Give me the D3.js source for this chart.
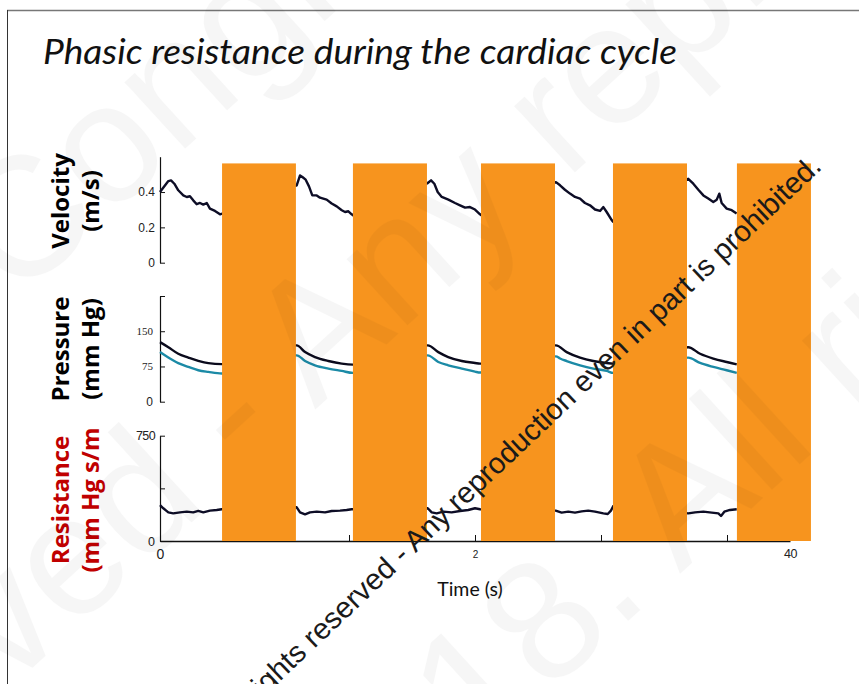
<!DOCTYPE html>
<html>
<head>
<meta charset="utf-8">
<script src="https://cdn.jsdelivr.net/npm/d3@7"></script>
<style>
  html, body { margin: 0; padding: 0; background: #fff; }
  svg { display: block; }
</style>
</head>
<body>
<svg id="chart" width="859" height="684"></svg>
<script>
// ---- recorded traces: [time (s), value] ----
const velocityTrace = [
  [0,0.40],[0.053,0.462],[0.070,0.466],[0.091,0.447],[0.116,0.41],[0.148,0.381],[0.170,0.372],[0.190,0.376],[0.211,0.353],[0.233,0.331],[0.254,0.338],[0.275,0.329],[0.297,0.338],[0.317,0.306],[0.349,0.293],[0.381,0.274],[0.394,0.278],
  [0.868,0.438],[0.889,0.494],[0.904,0.485],[0.925,0.47],[0.946,0.432],[0.967,0.381],[0.995,0.381],[1.016,0.368],[1.058,0.357],[1.090,0.335],[1.122,0.319],[1.154,0.297],[1.175,0.287],[1.196,0.291],[1.217,0.274],[1.225,0.269],
  [1.700,0.451],[1.721,0.466],[1.742,0.447],[1.763,0.40],[1.789,0.372],[1.831,0.357],[1.873,0.338],[1.905,0.325],[1.937,0.312],[1.968,0.315],[2.0,0.301],[2.032,0.274],[2.038,0.27],
  [2.514,0.456],[2.540,0.438],[2.571,0.413],[2.603,0.391],[2.635,0.372],[2.667,0.363],[2.698,0.338],[2.730,0.325],[2.762,0.301],[2.794,0.293],[2.815,0.315],[2.836,0.287],[2.868,0.241],[2.878,0.231],
  [3.354,0.475],[3.386,0.447],[3.418,0.413],[3.450,0.381],[3.481,0.363],[3.513,0.344],[3.535,0.357],[3.551,0.391],[3.566,0.338],[3.598,0.306],[3.630,0.297],[3.661,0.278]
];
const aorticPressure = [
  [0,126.8],[0.053,116],[0.116,102],[0.180,94],[0.243,87],[0.307,82],[0.392,80],
  [0.868,119.8],[0.921,105.6],[0.984,95],[1.069,86.6],[1.154,81],[1.225,79],
  [1.700,119.8],[1.767,105.6],[1.830,95],[1.916,86.6],[2.0,82.4],[2.032,81],
  [2.514,119.8],[2.582,105.6],[2.667,93.8],[2.751,86.6],[2.836,82.4],[2.878,81],
  [3.354,116],[3.429,102],[3.513,91.7],[3.598,84.5],[3.662,79.6]
];
const distalPressure = [
  [0,105.6],[0.053,94],[0.116,82],[0.180,74],[0.243,67],[0.307,63.4],[0.392,60],
  [0.868,98.7],[0.921,86.6],[0.984,77.5],[1.069,70.5],[1.154,65.5],[1.225,61.3],
  [1.700,98.7],[1.767,84.5],[1.830,77.5],[1.916,70.5],[2.0,64],[2.032,62],
  [2.514,96.5],[2.540,92],[2.582,86.6],[2.667,77.5],[2.751,70.5],[2.836,65.5],[2.878,61.3],
  [3.354,93.8],[3.429,82.4],[3.513,74],[3.598,67],[3.662,61.3]
];
const resistanceTrace = [
  [0,256],[0.021,233],[0.053,204],[0.084,197],[0.127,204],[0.170,209],[0.211,204],[0.243,214],[0.275,204],[0.317,216],[0.360,221],[0.392,226],
  [0.868,240],[0.889,204],[0.921,190],[0.952,204],[0.995,209],[1.048,204],[1.090,214],[1.143,216],[1.185,221],[1.217,226],
  [1.700,233],[1.725,204],[1.757,197],[1.799,209],[1.852,204],[1.905,214],[1.957,221],[2.0,233],[2.032,226],
  [2.512,216],[2.550,202],[2.592,209],[2.635,202],[2.677,211],[2.719,216],[2.762,209],[2.815,197],[2.843,192],[2.863,216],[2.878,249],
  [3.354,197],[3.397,204],[3.450,209],[3.503,202],[3.545,197],[3.562,178],[3.583,209],[3.619,221],[3.662,226]
];

// ---- masked time windows (s) ----
const maskStart = [0.394, 1.225, 2.038, 2.876, 3.663];
const maskEnd   = [0.863, 1.695, 2.508, 3.346, 4.133];

// ---- axis ticks ----
const timeTicks = [0,0.4,0.8,1.2,1.6,2.0,2.4,2.8,3.2,3.6,4.0];
const timeTickLabels = {0: "0", 2: "2", 4: "40"};
const velocityTicks = [0, 0.2, 0.4];
const pressureTicks = [0, 75, 150, 225];
const resistanceTicks = [0, 375, 750];

// ---- texts ----
const titleText = "Phasic resistance during the cardiac cycle";
const panelLabels = [
  {line1: "Velocity", line2: "(m/s)", color: "#000"},
  {line1: "Pressure", line2: "(mm Hg)", color: "#000"},
  {line1: "Resistance", line2: "(mm Hg s/m", color: "#c00000"}
];
const noticeText = "All rights reserved - Any reproduction even in part is prohibited.";

const svg = d3.select("#chart");

// slide frame
svg.append("line").attr("x1", 7).attr("x2", 859).attr("y1", 10.5).attr("y2", 10.5)
  .attr("stroke", "#777").attr("stroke-width", 1.6);
svg.append("line").attr("x1", 7.5).attr("x2", 7.5).attr("y1", 10).attr("y2", 684)
  .attr("stroke", "#333").attr("stroke-width", 1);

// title
svg.append("text")
  .attr("x", 43).attr("y", 64)
  .attr("font-family", "Lato, 'Open Sans', sans-serif")
  .attr("font-style", "italic")
  .attr("font-size", 34)
  .attr("fill", "#111")
  .attr("textLength", 634).attr("lengthAdjust", "spacingAndGlyphs")
  .text(titleText);

// scales
const x = d3.scaleLinear().domain([0, 4]).range([160, 790]);
const yVel = d3.scaleLinear().domain([0, 0.6]).range([262.7, 156.7]);
const yPres = d3.scaleLinear().domain([0, 225]).range([401.7, 296]);
const yRes = d3.scaleLinear().domain([0, 750]).range([541, 435.7]);

function styleAxis(g, fontFamily, fontSize) {
  g.select(".domain").attr("stroke", "#111").attr("stroke-width", 1.2);
  g.selectAll(".tick line").attr("stroke", "#111").attr("stroke-width", 1);
  g.selectAll(".tick text").attr("font-family", fontFamily).attr("font-size", fontSize).attr("fill", "#222");
}

// velocity axis
const gVel = svg.append("g").attr("transform", `translate(${x(0)},0)`)
  .call(d3.axisLeft(yVel).tickValues(velocityTicks).tickSizeInner(-5).tickSizeOuter(0).tickPadding(5)
    .tickFormat(d => d === 0 ? "0" : d3.format(".1f")(d)));
styleAxis(gVel, "Arial, 'Liberation Sans', sans-serif", 12);

// pressure axis
const gPres = svg.append("g").attr("transform", `translate(${x(0)},0)`)
  .call(d3.axisLeft(yPres).tickValues(pressureTicks).tickSizeInner(-5).tickSizeOuter(0).tickPadding(7)
    .tickFormat(d => d === 225 ? "" : String(d)));
styleAxis(gPres, "'Liberation Serif', 'DejaVu Serif', serif", 11);
gPres.selectAll(".tick text").filter(d => d === 0)
  .attr("font-family", "Arial, 'Liberation Sans', sans-serif").attr("font-size", 12);

// resistance axis
const gRes = svg.append("g").attr("transform", `translate(${x(0)},0)`)
  .call(d3.axisLeft(yRes).tickValues(resistanceTicks).tickSizeInner(-5).tickSizeOuter(0).tickPadding(5)
    .tickFormat(d => d === 375 ? "" : String(d)));
styleAxis(gRes, "Arial, 'Liberation Sans', sans-serif", 12.5);
gRes.selectAll(".tick text").filter(d => d === 750).attr("letter-spacing", -0.6);

// time axis
const gTime = svg.append("g").attr("transform", `translate(0,${yRes(0)})`)
  .call(d3.axisBottom(x).tickValues(timeTicks).tickSizeInner(-6).tickSizeOuter(0).tickPadding(8)
    .tickFormat(d => timeTickLabels[Math.round(d * 10) / 10] || ""));
styleAxis(gTime, "Arial, 'Liberation Sans', sans-serif", 12);
gTime.select(".domain").attr("stroke-width", 1.6);
gTime.selectAll(".tick text").each(function(d) {
  const s = d3.select(this);
  if (d === 0) s.attr("font-size", 14);
  else if (d === 2) s.attr("font-size", 10).attr("dy", "0.9em");
  else s.attr("font-size", 12.5).attr("letter-spacing", -0.5);
});

// time axis title
svg.append("text")
  .attr("x", 470).attr("y", 596)
  .attr("text-anchor", "middle")
  .attr("font-family", "Lato, 'Open Sans', sans-serif")
  .attr("font-size", 19.5)
  .attr("fill", "#111")
  .text("Time (s)");

// panel labels (rotated)
const labelCenters = [201, 349, 500];
panelLabels.forEach((lab, i) => {
  const g = svg.append("g").attr("font-family", "'Open Sans', 'DejaVu Sans', sans-serif")
    .attr("font-weight", 700).attr("font-size", 24).attr("fill", lab.color)
    .attr("text-anchor", "middle");
  g.append("text").attr("transform", `translate(68.5,${labelCenters[i]}) rotate(-90)`).text(lab.line1);
  g.append("text").attr("transform", `translate(98.5,${labelCenters[i]}) rotate(-90)`).text(lab.line2);
});

// traces
const traceLine = (yScale) => d3.line().x(d => x(d[0])).y(d => yScale(d[1]));
const smoothLine = (yScale) => d3.line().x(d => x(d[0])).y(d => yScale(d[1])).curve(d3.curveMonotoneX);

svg.append("path").datum(velocityTrace)
  .attr("d", traceLine(yVel)).attr("fill", "none")
  .attr("stroke", "#0d0d26").attr("stroke-width", 2.4).attr("stroke-linejoin", "round");
svg.append("path").datum(distalPressure)
  .attr("d", smoothLine(yPres)).attr("fill", "none")
  .attr("stroke", "#1b8aa6").attr("stroke-width", 2.4);
svg.append("path").datum(aorticPressure)
  .attr("d", smoothLine(yPres)).attr("fill", "none")
  .attr("stroke", "#0a0a1c").attr("stroke-width", 2.4);
svg.append("path").datum(resistanceTrace)
  .attr("d", traceLine(yRes)).attr("fill", "none")
  .attr("stroke", "#0d0d26").attr("stroke-width", 2.4).attr("stroke-linejoin", "round");

// masking blocks
svg.append("g").selectAll("rect")
  .data(d3.range(maskStart.length))
  .join("rect")
  .attr("x", i => x(maskStart[i]))
  .attr("width", i => x(maskEnd[i]) - x(maskStart[i]))
  .attr("y", yVel(0.562))
  .attr("height", yRes(0) - yVel(0.562))
  .attr("fill", "#f7941e");

// faint background lettering
function placeFragment(g, text, key, px, py, angle) {
  const t = g.append("text").text(text);
  const idx = text.indexOf(key);
  const off = idx > 0 ? t.node().getSubStringLength(0, idx) : 0;
  t.attr("x", -off).attr("transform", `translate(${px},${py}) rotate(${angle})`);
}
const faint = svg.append("g")
  .attr("font-family", "Arial, 'Liberation Sans', sans-serif")
  .attr("font-size", 170)
  .attr("fill", "#000")
  .attr("opacity", 0.033);
placeFragment(faint, "Congress 2018", "Congress", 16, 303, -42.4);
placeFragment(faint, "rights reserved - Any reproduction", "ved", 8, 690, -42.4);
placeFragment(faint, "2018. All rights", "8.", 547, 695, -42.4);

// notice line
svg.append("text")
  .attr("transform", "translate(823,168) rotate(-43.4)")
  .attr("text-anchor", "end")
  .attr("font-family", "Arial, 'Liberation Sans', sans-serif")
  .attr("font-size", 29.5)
  .attr("fill", "#1a1a1a")
  .text(noticeText);
</script>
</body>
</html>
